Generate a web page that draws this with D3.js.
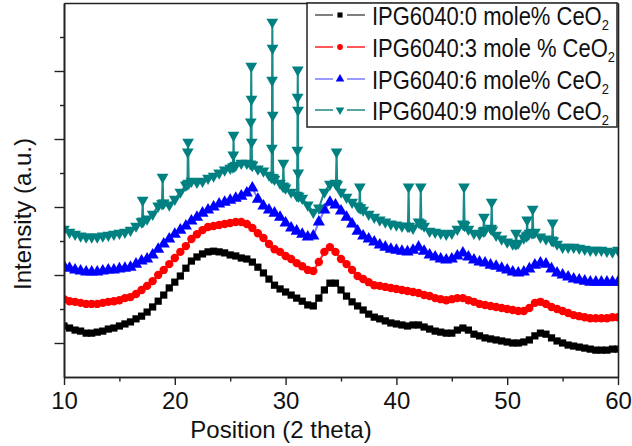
<!DOCTYPE html>
<html>
<head>
<meta charset="utf-8">
<script src="https://cdn.jsdelivr.net/npm/d3@7"></script>
<style>
  body { margin: 0; background: #fff; }
  svg { display: block; font-family: "Liberation Sans", Arial, sans-serif; }
</style>
</head>
<body>
<svg id="chart" width="632" height="446"></svg>
<script>
// 2 theta positions (deg)
const theta = [10,10.5,11,11.5,12,12.5,13,13.5,14,14.5,15,15.5,16,16.5,17,17.5,18,18.5,19,19.5,
  20,20.5,21,21.5,22,22.5,23,23.5,24,24.5,25,25.5,26,26.5,27,27.5,28,28.5,29,29.5,
  30,30.5,31,31.5,32,32.5,33,33.5,34,34.5,35,35.5,36,36.5,37,37.5,38,38.5,39,39.5,
  40,40.5,41,41.5,42,42.5,43,43.5,44,44.5,45,45.5,46,46.5,47,47.5,48,48.5,49,49.5,
  50,50.5,51,51.5,52,52.5,53,53.5,54,54.5,55,55.5,56,56.5,57,57.5,58,58.5,59,59.5,60];

// intensities (a.u., stacked as plotted)
const ceo2_0 = [150,144,138,135,129,129,132,135,141,144, 150,156,162,171,179,191,206,223,241,262,
  279,297,320,341,353,362,368,370,368,365, 359,356,350,347,338,323,306,288,270,259,
  250,241,232,223,212,209,232,256,276,276, 256,238,221,209,197,185,176,171,165,159,
  156,153,150,153,153,147,141,135,132,129, 129,138,144,138,126,121,115,112,109,106,
  103,100,100,103,109,121,129,126,115,106, 100,94,91,88,85,82,79,79,79,82, 82];
const ceo2_3 = [229,223,221,218,215,215,215,218,221,223, 226,232,235,244,256,268,282,300,315,332,
  350,368,385,406,420,432,441,444,447,450, 453,456,456,450,438,423,409,391,376,368,
  356,347,335,326,315,312,338,368,382,368, 347,332,315,297,288,279,270,268,265,262,
  259,256,253,250,247,241,238,232,229,226, 229,232,232,226,221,215,212,209,206,203,
  200,197,194,194,203,218,221,215,206,200, 194,188,182,179,176,173,173,173,173,176, 176];
const ceo2_6 = [326,320,315,312,309,309,309,312,315,315, 318,320,323,332,341,347,359,376,391,406,
  420,432,444,459,470,482,491,500,509,514, 520,526,532,541,556,523,503,491,482,470,
  453,438,429,420,412,415,456,491,514,506, 488,470,450,429,415,406,397,388,382,376,
  373,370,368,373,382,370,359,353,347,344, 347,356,365,353,344,338,335,329,326,320,
  315,309,306,309,318,329,335,332,318,306, 300,294,288,285,282,279,279,279,279,279, 279];
const ceo2_9 = [435,426,420,415,412,412,412,415,417,420, 423,426,432,444,456,465,479,503,512,506,
  523,544,564,576,573,576,585,591,600,609, 614,623,629,629,623,612,606,594,582,570,
  556,544,535,526,506,485,497,544,567,570, 544,529,514,503,491,479,470,462,456,450,
  447,444,444,438,456,444,429,426,423,420, 423,435,450,435,423,420,432,438,417,406,
  397,391,394,409,423,426,412,406,403,391, 382,382,382,379,376,373,373,373,370,368, 373];
// sharp crystalline reflections of the 9 mole% sample [2theta, intensity]
const peaks9 = [
  [17.04,457],[17.1,520],[17.16,459],
  [18.84,510],[18.9,588],[18.96,511],
  [21.14,568],[21.17,662],[21.2,691],[21.26,570],
  [25.24,618],[25.28,653],[25.3,711],[25.36,620],
  [26.82,627],[26.86,750],[26.9,914],[26.92,817],[26.94,691],[26.98,624],
  [28.72,588],[28.76,673],[28.78,873],[28.8,1044],[28.82,967],[28.84,770],[28.88,586],
  [29.74,562],[29.8,629],[29.86,560],
  [31.02,534],[31.06,667],[31.08,823],[31.1,903],[31.12,785],[31.14,600],[31.18,532],
  [34.54,569],[34.6,662],[34.66,566],
  [36.64,499],[36.7,559],[36.76,497],
  [41.04,444],[41.1,559],[41.16,443],
  [42.14,453],[42.2,559],[42.26,450],
  [46.04,449],[46.1,559],[46.16,446],
  [47.84,429],[47.9,470],[47.96,431],
  [48.54,437],[48.6,514],[48.66,433],
  [50.74,392],[50.8,423],[50.86,393],
  [51.74,415],[51.8,462],[51.86,418],
  [52.24,424],[52.3,494],[52.36,425],
  [54.04,402],[54.1,453],[54.16,400]
];

const labels = ["IPG6040:0 mole% CeO", "IPG6040:3 mole % CeO", "IPG6040:6 mole% CeO", "IPG6040:9 mole% CeO"];
const xMajor = [10, 20, 30, 40, 50, 60];
const xMinor = [15, 25, 35, 45, 55];
const yMajor = [100, 300, 500, 700, 900];
const yMinor = [200, 400, 600, 800, 1000];

const series = [
  {name: labels[0], pts: theta.map((t, i) => [t, ceo2_0[i]]), fill: "#000", line: "#555", sym: d3.symbolSquare, size: 52, rot: 0},
  {name: labels[1], pts: theta.map((t, i) => [t, ceo2_3[i]]), fill: "#ff0000", line: "#ff2020", sym: d3.symbolCircle, size: 56, rot: 0},
  {name: labels[2], pts: theta.map((t, i) => [t, ceo2_6[i]]), fill: "#0000ff", line: "#7a7aff", sym: d3.symbolTriangle, size: 64, rot: 0},
  {name: labels[3], pts: theta.map((t, i) => [t, ceo2_9[i]]).concat(peaks9).sort((a, b) => a[0] - b[0]),
    fill: "#008080", line: "#1a8a8a", sym: d3.symbolTriangle, size: 60, rot: 180}
];

const svg = d3.select("#chart");
const x = d3.scaleLinear().domain([10, 60]).range([64, 618]);
const y = d3.scaleLinear().domain([0, 1100]).range([377, 3]);

svg.append("clipPath").attr("id", "clip")
  .append("rect").attr("x", 64).attr("y", 3).attr("width", 554).attr("height", 374);

const plot = svg.append("g").attr("clip-path", "url(#clip)");
const line = d3.line().x(d => x(d[0])).y(d => y(d[1]));

series.forEach(s => {
  plot.append("path")
    .datum(s.pts)
    .attr("fill", "none")
    .attr("stroke", s.line)
    .attr("stroke-width", 2)
    .attr("d", line);
  const sym = d3.symbol().type(s.sym).size(s.size);
  plot.append("g")
    .selectAll("path")
    .data(s.pts)
    .join("path")
    .attr("transform", d => "translate(" + x(d[0]) + "," + y(d[1]) + ") rotate(" + s.rot + ")")
    .attr("d", sym)
    .attr("fill", s.fill);
});

// axes
const axisStyle = g => {
  g.select(".domain").attr("stroke", "#222").attr("stroke-width", 1.6);
  g.selectAll(".tick line").attr("stroke", "#222").attr("stroke-width", 1.4);
};

svg.append("g")
  .attr("transform", "translate(0,377)")
  .call(d3.axisBottom(x).tickValues(xMinor).tickSize(4.5).tickFormat("").tickSizeOuter(0))
  .call(axisStyle);
svg.append("g")
  .attr("transform", "translate(0,377)")
  .call(d3.axisBottom(x).tickValues(xMajor).tickSize(8).tickPadding(7).tickSizeOuter(0))
  .call(axisStyle)
  .call(g => g.selectAll("text").attr("font-size", 24).attr("fill", "#111").attr("font-family", "Liberation Sans, Arial, sans-serif"));

svg.append("g")
  .attr("transform", "translate(64,0)")
  .call(d3.axisLeft(y).tickValues(yMinor).tickSize(4).tickFormat("").tickSizeOuter(0))
  .call(axisStyle);
svg.append("g")
  .attr("transform", "translate(64,0)")
  .call(d3.axisLeft(y).tickValues(yMajor).tickSize(9.5).tickFormat("").tickSizeOuter(0))
  .call(axisStyle);

// frame top and right
svg.append("g")
  .attr("transform", "translate(0,3)")
  .call(d3.axisTop(x).tickValues([]).tickSizeOuter(0))
  .call(axisStyle);
svg.append("g")
  .attr("transform", "translate(618,0)")
  .call(d3.axisRight(y).tickValues([]).tickSizeOuter(0))
  .call(axisStyle);

// axis titles
svg.append("text")
  .attr("x", 281).attr("y", 438)
  .attr("text-anchor", "middle")
  .attr("font-size", 24).attr("fill", "#111")
  .text("Position (2 theta)");
svg.append("text")
  .attr("transform", "translate(31,214) rotate(-90)")
  .attr("text-anchor", "middle")
  .attr("font-size", 24).attr("fill", "#111")
  .text("Intensity (a.u.)");

// legend
const legend = svg.append("g");
legend.append("rect")
  .attr("x", 307).attr("y", 3).attr("width", 310).attr("height", 124)
  .attr("fill", "#fff").attr("stroke", "#222").attr("stroke-width", 1.5);

const rowY = [15, 47, 79, 110];
const legendSize = [26, 26, 32, 32];
series.forEach((s, i) => {
  const r = legend.append("g").attr("transform", "translate(0," + rowY[i] + ")");
  r.append("line").attr("x1", 315).attr("x2", 333).attr("stroke", s.line).attr("stroke-width", 1.5);
  r.append("line").attr("x1", 347).attr("x2", 365).attr("stroke", s.line).attr("stroke-width", 1.5);
  r.append("path")
    .attr("transform", "translate(340,0) rotate(" + s.rot + ")")
    .attr("d", d3.symbol().type(s.sym).size(legendSize[i]))
    .attr("fill", s.fill);
  const t = r.append("g").attr("transform", "translate(372,9.5) scale(1,1.15)")
    .append("text").attr("font-size", 22).attr("fill", "#111");
  t.append("tspan").text(s.name);
  t.append("tspan").attr("font-size", 13).attr("dy", 4.5).text("2");
});
</script>
</body>
</html>
